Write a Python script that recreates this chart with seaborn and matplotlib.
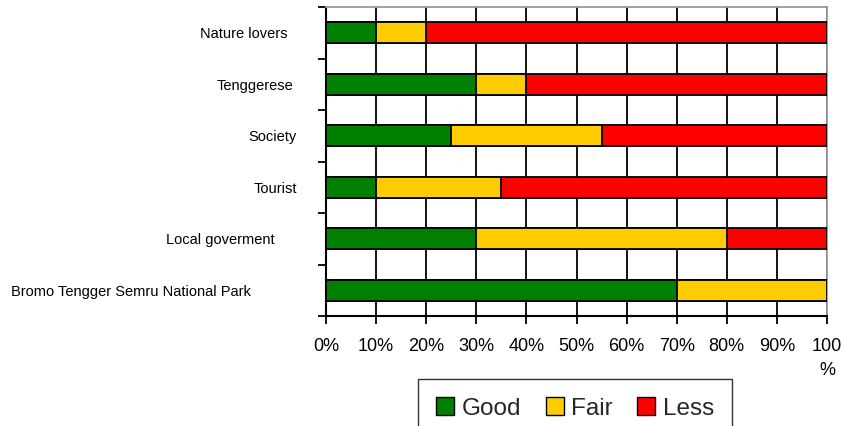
import matplotlib
matplotlib.use("Agg")
import matplotlib.pyplot as plt
import matplotlib.transforms as mtransforms
import seaborn as sns
import pandas as pd
import numpy as np
from matplotlib.patches import Patch

categories = ["Nature lovers", "Tenggerese", "Society", "Tourist",
              "Local goverment", "Bromo Tengger Semru National Park"]
good = [10, 30, 25, 10, 30, 70]
fair = [10, 10, 30, 25, 50, 30]
less = [80, 60, 45, 65, 20, 0]
series_names = ["Good", "Fair", "Less"]
colors = ["#008000", "#FFCC00", "#FF0000"]
xtick_labels = ["0%", "10%", "20%", "30%", "40%", "50%", "60%", "70%",
                "80%", "90%", "100\n%"]

sns.set_theme(style="white")
plt.rcParams["font.family"] = ["Liberation Sans", "DejaVu Sans"]

df = pd.DataFrame({"category": categories, "Good": good, "Fair": fair, "Less": less})
df["c_good"] = df["Good"]
df["c_fair"] = df["Good"] + df["Fair"]
df["c_less"] = df["Good"] + df["Fair"] + df["Less"]

fig = plt.figure(figsize=(8.44, 4.26), dpi=100)
ax = fig.add_axes([326/844, 1-316/426, (827-326)/844, (316-7)/426])

for col, color in zip(["c_less", "c_fair", "c_good"], colors[::-1]):
    sns.barplot(data=df, x=col, y="category", order=categories, orient="h",
                color=color, width=0.41, edgecolor="black", linewidth=1.3,
                saturation=1, ax=ax, zorder=3)

ax.set_xlim(0, 100)
ax.set_ylim(len(categories) - 0.5, -0.5)
ax.set_xlabel("")
ax.set_ylabel("")
ax.set_xticks(np.arange(0, 101, 10))
ax.set_xticklabels(xtick_labels, fontsize=13, color="black", va="top", linespacing=1.5)
ax.xaxis.grid(True, color="black", linewidth=1.3)
ax.set_axisbelow(True)

ax.set_yticks(range(len(categories)))
ax.set_yticklabels(categories, fontsize=10.5, color="black")
ax.set_yticks(np.arange(-0.5, len(categories)), minor=True)
ax.tick_params(axis="y", which="major", length=0, pad=0)
ax.tick_params(axis="y", which="minor", length=6, width=1.3, color="black", direction="out", left=True)
ax.tick_params(axis="x", which="major", length=6, width=1.3, color="black", direction="out", bottom=True, pad=10)

# individual right-edge offsets (pixels from the axis) as in the reference
label_pads = [39, 33, 29, 29, 51, 75]
for lab, p in zip(ax.get_yticklabels(), label_pads):
    lab.set_transform(lab.get_transform() + mtransforms.ScaledTranslation(-p/100, 0, fig.dpi_scale_trans))

for side in ["left", "bottom"]:
    ax.spines[side].set_color("black")
    ax.spines[side].set_linewidth(1.5)
for side in ["top", "right"]:
    ax.spines[side].set_color("#999999")
    ax.spines[side].set_linewidth(1.3)

handles = [Patch(facecolor=c, edgecolor="black", linewidth=1.0, label=n)
           for c, n in zip(colors, series_names)]
leg = fig.legend(handles=handles, loc="upper center", bbox_to_anchor=(575/844, 1-379/426),
                 ncol=3, frameon=True, fontsize=17.5, handlelength=0.75, handleheight=0.75,
                 handletextpad=0.3, columnspacing=1.0, fancybox=False,
                 borderpad=0.75, borderaxespad=0)
leg.get_frame().set_edgecolor("black")
leg.get_frame().set_linewidth(1.0)

fig.savefig("out.png", dpi=100)
